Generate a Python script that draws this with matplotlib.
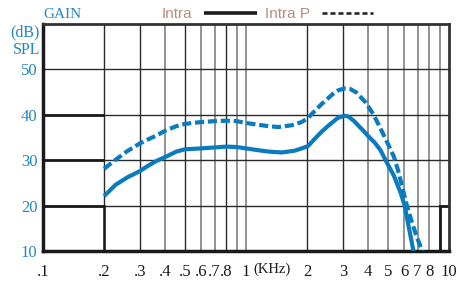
import matplotlib
matplotlib.use("Agg")
import matplotlib.pyplot as plt
from matplotlib.lines import Line2D

# ---- data ----
freq_intra = [0.2, 0.228, 0.26, 0.3, 0.33, 0.361, 0.4, 0.454, 0.5, 0.6, 0.7, 0.8, 0.9,
              1.0, 1.15, 1.29, 1.5, 1.74, 1.88, 2.02, 2.18, 2.35, 2.53, 2.83, 3.05,
              3.2, 3.41, 3.82, 4.0, 4.3, 4.6, 4.87, 5.35, 5.78, 6.05, 6.32, 6.5, 6.68]
gain_intra = [22.1, 24.6, 26.2, 27.6, 28.8, 29.8, 30.7, 31.9, 32.4, 32.6, 32.8, 33.0, 32.9,
              32.6, 32.2, 31.9, 31.7, 32.1, 32.6, 33.1, 34.7, 36.2, 37.5, 39.3, 39.8,
              39.6, 38.6, 36.3, 35.3, 33.9, 32.2, 30.0, 26.6, 22.8, 20.0, 15.5, 12.8, 10.0]

freq_intrap = [0.2, 0.228, 0.26, 0.3, 0.33, 0.361, 0.4, 0.454, 0.5, 0.6, 0.7, 0.8, 0.9,
               1.0, 1.15, 1.29, 1.44, 1.68, 1.88, 2.02, 2.1, 2.35, 2.68, 2.85, 3.05,
               3.25, 3.48, 3.89, 4.2, 4.4, 4.87, 5.35, 5.6, 5.87, 6.2, 6.58, 6.96, 7.4]
gain_intrap = [28.1, 30.1, 32.0, 33.7, 34.6, 35.4, 36.5, 37.5, 38.0, 38.4, 38.6, 38.7, 38.6,
               38.2, 37.8, 37.5, 37.3, 37.7, 38.4, 39.3, 40.1, 42.3, 44.6, 45.4, 45.8,
               45.7, 45.0, 42.7, 40.4, 38.7, 34.7, 30.8, 27.9, 24.3, 20.0, 16.2, 12.9, 10.0]

xtick_vals = [0.1, 0.2, 0.3, 0.4, 0.5, 0.6, 0.7, 0.8, 1, 2, 3, 4, 5, 6, 7, 8, 10]
xtick_labels = [".1", ".2", ".3", ".4", ".5", ".6", ".7", ".8", "1", "2", "3", "4",
                "5", "6", "7", "8", "10"]
ytick_vals = [10, 20, 30, 40, 50]

dark_vlines = [0.2, 0.3, 0.5, 0.8, 2, 3]
gray_vlines = [0.4, 0.6, 0.7, 0.9, 1, 4, 5, 6, 7, 8, 9]

BLUE = "#0b7bbf"
LABEL_BLUE = "#1f86c6"
BROWN = "#b58c7e"
SERIF = ["Liberation Serif", "DejaVu Serif"]
SANS = ["Liberation Sans", "DejaVu Sans"]

fig = plt.figure(figsize=(4.77, 2.86), dpi=100)
ax = fig.add_axes([43/477, 1-251/286, (449-43)/477, (251-24)/286])
ax.set_xscale("log")
ax.set_xlim(0.1, 10)
ax.set_ylim(10, 60)

# grid
for v in gray_vlines:
    ax.axvline(v, color="#8a8a8a", lw=1.3, zorder=1)
for v in dark_vlines:
    ax.axvline(v, color="#2a2a2a", lw=1.0, zorder=1)
for y in ytick_vals[1:]:
    ax.axhline(y, color="#2a2a2a", lw=1.0, zorder=1)
# heavier segments
for y in [20, 30, 40]:
    ax.plot([0.1, 0.2], [y, y], color="#1a1a1a", lw=2.0, zorder=2, solid_capstyle="butt")
ax.plot([0.2, 0.2], [10, 20], color="#1a1a1a", lw=1.8, zorder=2)
ax.plot([9, 9], [10, 20], color="#1a1a1a", lw=2.0, zorder=2)
ax.plot([9, 10], [20, 20], color="#1a1a1a", lw=2.0, zorder=2)

# curves
ax.plot(freq_intra, gain_intra, color=BLUE, lw=3.0, zorder=5,
        solid_capstyle="butt", solid_joinstyle="round")
ax.plot(freq_intrap, gain_intrap, color=BLUE, lw=3.0, zorder=5,
        linestyle=(0, (2.2, 0.9)), dash_capstyle="butt", dash_joinstyle="round")

# spines
for s in ["left", "bottom"]:
    ax.spines[s].set_linewidth(2.5)
    ax.spines[s].set_color("#1a1a1a")
for s in ["top", "right"]:
    ax.spines[s].set_linewidth(2.0)
    ax.spines[s].set_color("#333333")

ax.set_xticks(xtick_vals)
ax.set_xticklabels(xtick_labels, fontfamily=SERIF, fontsize=12, color="#1a1a1a")
ax.xaxis.set_minor_locator(matplotlib.ticker.NullLocator())
ax.set_yticks(ytick_vals)
ax.set_yticklabels([str(v) for v in ytick_vals], fontfamily=SERIF, fontsize=12,
                   color=LABEL_BLUE)
ax.tick_params(axis="x", length=0, pad=9)
ax.tick_params(axis="y", length=0, pad=4)

# text
fig.text(272/477, 1-269/286, "(KHz)", fontfamily=SERIF, fontsize=10.5,
         ha="center", va="center", color="#1a1a1a")
fig.text(43/477, 1-14/286, "GAIN", fontfamily=SERIF, fontsize=11,
         ha="left", va="center", color=LABEL_BLUE)
fig.text(40/477, 1-32/286, "(dB)", fontfamily=SERIF, fontsize=11.5,
         ha="right", va="center", color=LABEL_BLUE)
fig.text(40/477, 1-50/286, "SPL", fontfamily=SERIF, fontsize=11.5,
         ha="right", va="center", color=LABEL_BLUE)

# legend
fig.text(162/477, 1-14/286, "Intra", fontfamily=SANS, fontsize=11,
         ha="left", va="center", color=BROWN)
fig.text(265/477, 1-14/286, "Intra P", fontfamily=SANS, fontsize=11,
         ha="left", va="center", color=BROWN)
fig.add_artist(Line2D([204/477, 257/477], [1-13/286, 1-13/286], color="#1a1a1a",
                      lw=2.6, transform=fig.transFigure, solid_capstyle="butt"))
fig.add_artist(Line2D([322/477, 373/477], [1-13/286, 1-13/286], color="#1a1a1a",
                      lw=1.8, linestyle=(0, (2.0, 1.2)), transform=fig.transFigure,
                      dash_capstyle="butt"))

fig.savefig("out.png", dpi=100)
